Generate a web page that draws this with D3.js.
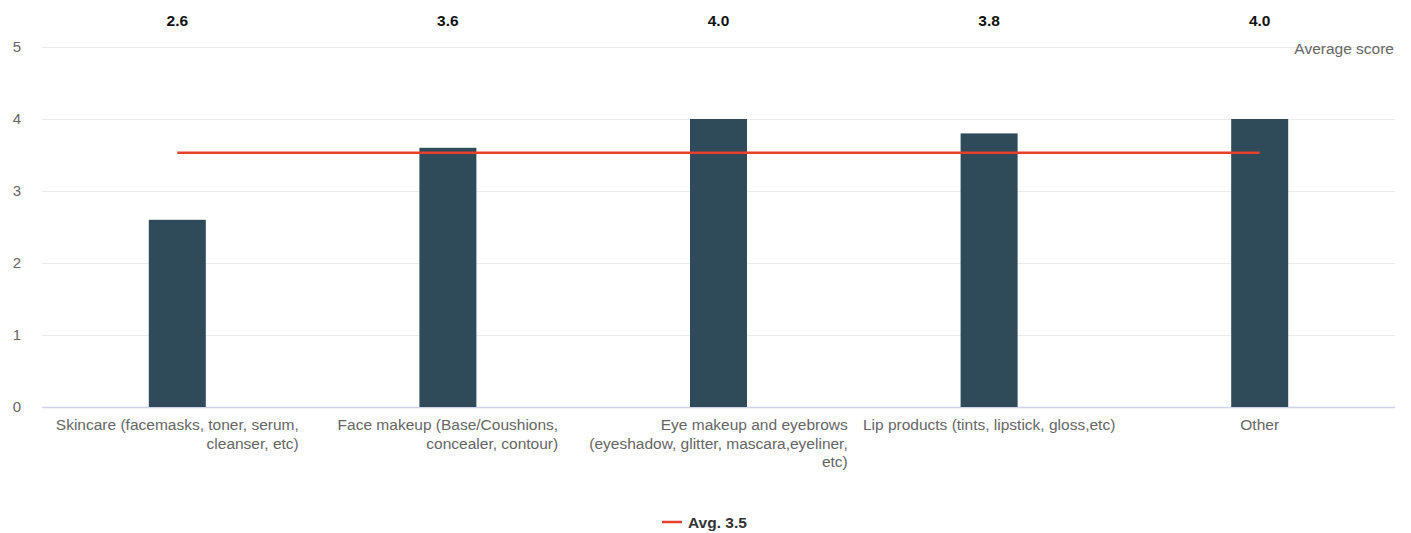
<!DOCTYPE html>
<html>
<head>
<meta charset="utf-8">
<script src="https://cdn.jsdelivr.net/npm/d3@7/dist/d3.min.js"></script>
<style>
  html, body { margin: 0; padding: 0; background: #fff; }
  svg { display: block; font-family: "Liberation Sans", Arial, Helvetica, sans-serif; }
</style>
</head>
<body>
<svg id="chart" width="1411" height="533"></svg>
<script>
// Categories (each label split into its display lines)
const categories = [
  "Skincare",
  "Face makeup",
  "Eye makeup",
  "Lip products",
  "Other"
];
const categoryLines = [
  ["Skincare (facemasks, toner, serum,", "cleanser, etc)"],
  ["Face makeup (Base/Coushions,", "concealer, contour)"],
  ["Eye makeup and eyebrows", "(eyeshadow, glitter, mascara,eyeliner,", "etc)"],
  ["Lip products (tints, lipstick, gloss,etc)"],
  ["Other"]
];
const scores = [2.6, 3.6, 4.0, 3.8, 4.0];
const averageScore = 3.53;
const yTicks = [0, 1, 2, 3, 4, 5];
const yAxisTitle = "Average score";
const legendLabel = "Avg.";

const svg = d3.select("#chart");
const margin = { left: 42, right: 16, top: 47, bottom: 126 };
const W = 1411, H = 533;

const x = d3.scaleBand()
  .domain(categories)
  .range([margin.left, W - margin.right])
  .paddingInner(0).paddingOuter(0);

const y = d3.scaleLinear()
  .domain([0, 5])
  .range([H - margin.bottom, margin.top]);

const fmt = d3.format(".1f");

// Horizontal gridlines
svg.append("g")
  .selectAll("line")
  .data(yTicks)
  .join("line")
  .attr("x1", margin.left)
  .attr("x2", W - margin.right)
  .attr("y1", d => Math.round(y(d)) + 0.5)
  .attr("y2", d => Math.round(y(d)) + 0.5)
  .attr("stroke", d => d === 0 ? "#cfd3e6" : "#ebebeb")
  .attr("stroke-width", d => d === 0 ? 1.5 : 1);

// Y axis tick labels
const yAxis = d3.axisLeft(y).tickValues(yTicks).tickSize(0).tickPadding(0).tickFormat(d3.format("d"));
svg.append("g")
  .attr("transform", `translate(17,0)`)
  .call(yAxis)
  .call(g => g.select(".domain").remove())
  .call(g => g.selectAll("text")
    .attr("text-anchor", "middle")
    .attr("fill", "#666")
    .style("font-size", "15px")
    .style("font-family", "\"Liberation Sans\", Arial, sans-serif"));

// Axis title
svg.append("text")
  .attr("x", W - 17)
  .attr("y", y(5) + 7)
  .attr("text-anchor", "end")
  .attr("fill", "#666")
  .style("font-size", "15.5px")
  .text(yAxisTitle);

// Bars
const barW = 57;
svg.append("g")
  .selectAll("rect")
  .data(scores)
  .join("rect")
  .attr("x", (d, i) => x(categories[i]) + x.bandwidth() / 2 - barW / 2)
  .attr("y", d => y(d))
  .attr("width", barW)
  .attr("height", d => y(0) - y(d))
  .attr("fill", "#2f4b59");

// Value labels along the top
svg.append("g")
  .selectAll("text")
  .data(scores)
  .join("text")
  .attr("x", (d, i) => x(categories[i]) + x.bandwidth() / 2)
  .attr("y", 26)
  .attr("text-anchor", "middle")
  .attr("fill", "#111")
  .style("font-size", "15.5px")
  .style("font-weight", "bold")
  .text(d => fmt(d));

// Average line
svg.append("line")
  .attr("x1", x(categories[0]) + x.bandwidth() / 2)
  .attr("x2", x(categories[categories.length - 1]) + x.bandwidth() / 2)
  .attr("y1", y(averageScore))
  .attr("y2", y(averageScore))
  .attr("stroke", "#e8402f")
  .attr("stroke-width", 2.5);

// Category labels: right-aligned lines, block centred on each band
const labelG = svg.append("g");
categoryLines.forEach((lines, i) => {
  const cx = x(categories[i]) + x.bandwidth() / 2;
  const g = labelG.append("g");
  const t = g.selectAll("text")
    .data(lines)
    .join("text")
    .attr("y", (d, j) => y(0) + 23 + j * 18.5)
    .attr("fill", "#666")
    .style("font-size", "15.5px")
    .text(d => d);
  const widths = t.nodes().map(n => n.getComputedTextLength());
  const maxW = d3.max(widths);
  t.attr("x", cx + maxW / 2).attr("text-anchor", "end");
});

// Legend
const legend = svg.append("g").attr("transform", "translate(662,522)");
legend.append("line")
  .attr("x1", 0).attr("x2", 20)
  .attr("y1", 0).attr("y2", 0)
  .attr("stroke", "#e8402f")
  .attr("stroke-width", 2.5);
legend.append("text")
  .attr("x", 26)
  .attr("y", 5.5)
  .attr("fill", "#333")
  .style("font-size", "15.5px")
  .style("font-weight", "bold")
  .text(`${legendLabel} ${fmt(averageScore)}`);
</script>
</body>
</html>
